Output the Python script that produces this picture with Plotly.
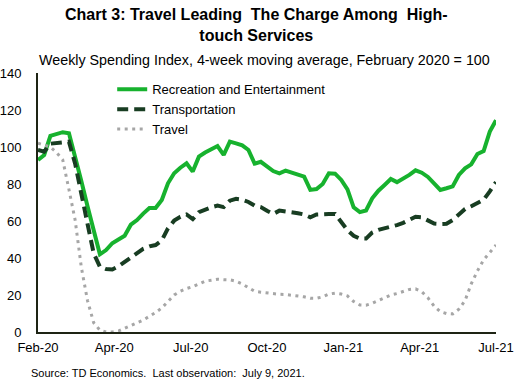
import pandas as pd
import plotly.graph_objects as go

dates = pd.date_range(end="2021-07-09", periods=75, freq="7D")

recreation = [93, 95.7, 106, 107, 108, 107.4, 95, 81.6, 68, 55,
              42, 44.3, 48, 50, 52, 58, 60.5, 64, 67, 67,
              71.4, 80.4, 85.8, 88.8, 91.2, 86.7, 94.8, 97, 98.7, 100.5,
              95.7, 102.9, 102, 100.9, 98.4, 91, 92, 89.7, 87, 85.8,
              87.2, 86.1, 84.9, 84, 76.8, 77.3, 80, 85.8, 85.6, 82.2,
              77.1, 67.4, 64.8, 65.7, 72.3, 76.4, 79.5, 82.7, 81, 82.9,
              84.9, 87.4, 86.1, 83.8, 80, 76.8, 77.7, 78.7, 84.9, 88.5,
              90.6, 96.2, 97.8, 108.3, 114.5]

transportation = [98.4, 97.5, 101.8, 102.3, 102.8, 102.9, 91, 76, 58.5, 42.5,
                  35.3, 34, 33.8, 35.5, 38, 40.3, 42.5, 45, 46.3, 47,
                  49.5, 56, 60.2, 62.3, 63.5, 61, 64.8, 66.3, 67.4, 68.3,
                  67.5, 71, 72, 71.5, 70.3, 68.3, 67.5, 65.5, 63.8, 65.6,
                  65.3, 64.8, 64.2, 63.5, 62, 63.5, 63.8, 63.8, 63.8, 59.6,
                  55, 52, 50.5, 50.5, 53.8, 55.2, 56, 57, 57.8, 59,
                  60.5, 62.3, 62, 60.2, 58.6, 58.4, 58.5, 60.5, 63.8, 66.5,
                  68, 70, 71.5, 76, 81]

travel = [102, 101, 100, 97, 93, 77, 60.5, 35, 17, 5,
          1, 0, 0, 0.5, 2, 3.5, 5, 6.5, 8.5, 10.5,
          13, 16.5, 20, 22, 23.5, 24.5, 26, 27.5, 28, 28.5,
          28.3, 28.2, 27.5, 26, 24, 22, 21.5, 21, 20.5, 20.4,
          20.3, 20, 19.6, 19, 18.2, 18.2, 19, 20.5, 21, 20.5,
          19.5, 16.5, 14.6, 14.5, 15.5, 17, 18.2, 20, 20.8, 22,
          23, 23.3, 21.8, 18.5, 14, 11, 10, 9.8, 12.3, 17,
          26, 33, 39, 43, 47]

tick_labels = ["Feb-20", "Apr-20", "Jul-20", "Oct-20", "Jan-21", "Apr-21", "Jul-21"]

start, end = dates[0], dates[-1]
n_int = len(tick_labels) - 1
tick_vals = [start + (end - start) * k / n_int for k in range(len(tick_labels))]

FONT = "Liberation Sans, Arial, sans-serif"

fig = go.Figure()
fig.add_trace(go.Scatter(x=dates, y=recreation, mode="lines",
                         name="Recreation and Entertainment",
                         line=dict(color="#17B22E", width=4)))
fig.add_trace(go.Scatter(x=dates, y=transportation, mode="lines",
                         name="Transportation",
                         line=dict(color="#183D22", width=4, dash="11px,6px")))
fig.add_trace(go.Scatter(x=dates, y=travel, mode="lines",
                         name="Travel",
                         line=dict(color="#A6A6A6", width=3, dash="3px,4.5px")))

fig.update_layout(
    width=519, height=386,
    margin=dict(l=38, r=23, t=73, b=54, autoexpand=False),
    paper_bgcolor="white", plot_bgcolor="white",
    font=dict(family=FONT, size=13, color="black"),
    showlegend=True,
    legend=dict(x=0.162, y=0.995, xanchor="left", yanchor="top",
                bgcolor="rgba(0,0,0,0)", font=dict(size=13, family=FONT),
                tracegroupgap=0),
    xaxis=dict(range=[start, end], tickvals=tick_vals, ticktext=tick_labels,
               showgrid=False, zeroline=False, showline=True,
               linecolor="#1E2414", linewidth=2, ticks="", automargin=False,
               ticklabelstandoff=2, tickfont=dict(size=13)),
    yaxis=dict(range=[0, 140], dtick=20, showgrid=False, zeroline=False,
               showline=True, linecolor="#1E2414", linewidth=2, ticks="",
               automargin=False,
               ticklabelstandoff=12, tickfont=dict(size=13)),
    annotations=[
        dict(text="<b>Chart 3: Travel Leading&nbsp; The Charge Among&nbsp; High-<br>touch Services</b>",
             xref="paper", yref="paper", x=0.478, y=1.265, xanchor="center",
             yanchor="top", showarrow=False, font=dict(size=16, family=FONT)),
        dict(text="Weekly Spending Index, 4-week moving average, February 2020 = 100",
             xref="paper", yref="paper", x=-0.002, y=1.05, xanchor="left",
             yanchor="middle", showarrow=False, font=dict(size=14.3, family=FONT)),
        dict(text="Source: TD Economics.&nbsp; Last observation:&nbsp; July 9, 2021.",
             xref="paper", yref="paper", x=-0.0195, y=-0.158, xanchor="left",
             yanchor="middle", showarrow=False, font=dict(size=11, family=FONT)),
    ],
)

fig.write_html("out.html", post_script="document.body.style.margin='0';",
               config={"displayModeBar": False})
